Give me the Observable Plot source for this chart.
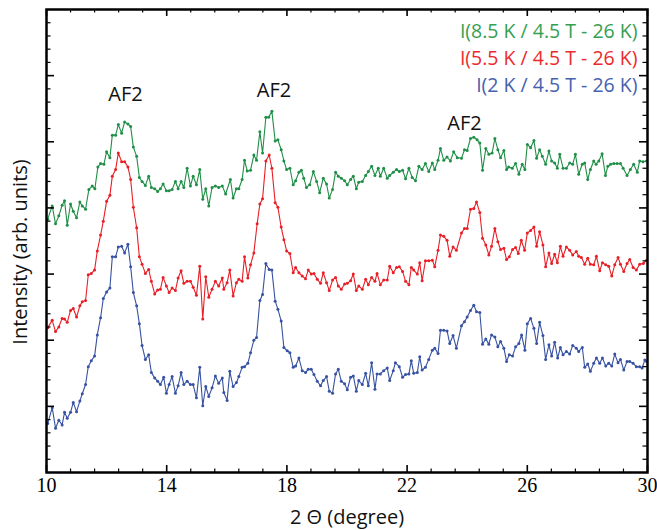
<!DOCTYPE html>
<html><head><meta charset="utf-8">
<script src="https://cdn.jsdelivr.net/npm/d3@7"></script>
<script src="https://cdn.jsdelivr.net/npm/@observablehq/plot@0.6"></script>
<style>html,body{margin:0;padding:0;background:#fff;}</style>
</head><body><div id="chart"></div>
<script>
// Series: [2θ (degree), intensity (arb. units)]
const green = [[10.04,3.83],[10.19,4.03],[10.30,3.76],[10.41,3.88],[10.52,4.04],[10.60,4.11],[10.69,3.74],[10.80,4.06],[10.89,3.95],[11.00,3.85],[11.11,4.09],[11.19,4.03],[11.30,3.98],[11.41,4.28],[11.52,4.33],[11.61,4.29],[11.71,4.62],[11.80,4.67],[11.91,4.66],[12.00,4.85],[12.11,4.76],[12.19,5.10],[12.30,5.10],[12.39,5.26],[12.50,5.13],[12.60,5.30],[12.71,5.27],[12.80,5.23],[12.89,4.92],[13.00,4.78],[13.09,4.46],[13.18,4.40],[13.29,4.34],[13.40,4.48],[13.49,4.31],[13.60,4.29],[13.70,4.25],[13.79,4.29],[13.88,4.36],[13.99,4.26],[14.08,4.26],[14.18,4.28],[14.29,4.40],[14.38,4.29],[14.48,4.40],[14.57,4.31],[14.68,4.60],[14.79,4.33],[14.88,4.48],[14.99,4.35],[15.10,4.58],[15.20,4.13],[15.30,4.29],[15.40,4.03],[15.51,4.31],[15.62,4.33],[15.73,4.31],[15.85,4.33],[15.96,4.21],[16.12,4.43],[16.21,4.15],[16.32,4.29],[16.40,4.29],[16.51,4.43],[16.59,4.72],[16.68,4.56],[16.79,4.57],[16.90,4.80],[16.99,4.72],[17.10,5.15],[17.19,4.83],[17.30,5.37],[17.39,5.37],[17.50,5.46],[17.61,5.01],[17.70,5.03],[17.81,4.88],[17.90,4.71],[17.99,4.58],[18.10,4.60],[18.21,4.35],[18.29,4.41],[18.40,4.54],[18.48,4.57],[18.56,4.45],[18.65,4.31],[18.76,4.35],[18.88,4.55],[18.99,4.40],[19.09,4.23],[19.21,4.45],[19.32,4.36],[19.41,4.15],[19.52,4.28],[19.62,4.54],[19.71,4.48],[19.81,4.45],[19.92,4.41],[20.01,4.35],[20.12,4.43],[20.21,4.48],[20.31,4.29],[20.39,4.39],[20.51,4.40],[20.62,4.49],[20.71,4.55],[20.82,4.63],[20.93,4.49],[21.04,4.60],[21.11,4.48],[21.22,4.60],[21.34,4.45],[21.42,4.49],[21.54,4.54],[21.65,4.58],[21.74,4.55],[21.85,4.57],[21.95,4.44],[22.06,4.60],[22.17,4.46],[22.28,4.41],[22.39,4.63],[22.50,4.58],[22.61,4.67],[22.72,4.55],[22.84,4.68],[22.92,4.58],[23.03,4.72],[23.11,4.90],[23.22,4.72],[23.33,4.77],[23.44,4.71],[23.55,4.85],[23.67,4.76],[23.81,4.75],[23.91,4.88],[24.00,4.87],[24.11,5.05],[24.22,5.07],[24.33,5.03],[24.42,4.98],[24.51,4.57],[24.62,4.90],[24.72,4.81],[24.83,4.83],[24.92,5.05],[25.02,4.88],[25.11,4.76],[25.22,4.87],[25.31,4.58],[25.38,4.62],[25.50,4.60],[25.61,4.67],[25.72,4.51],[25.83,4.66],[25.92,4.58],[26.00,4.96],[26.11,4.91],[26.22,5.02],[26.31,4.75],[26.41,4.88],[26.50,4.78],[26.61,4.66],[26.72,4.86],[26.81,4.71],[26.91,4.68],[27.00,4.60],[27.08,4.81],[27.19,4.60],[27.30,4.60],[27.41,4.68],[27.51,4.66],[27.60,4.81],[27.71,4.51],[27.83,4.66],[27.91,4.68],[28.01,4.43],[28.10,4.58],[28.21,4.71],[28.29,4.66],[28.38,4.71],[28.49,4.82],[28.60,4.49],[28.68,4.63],[28.77,4.66],[28.88,4.67],[28.99,4.67],[29.10,4.67],[29.19,4.60],[29.32,4.49],[29.43,4.58],[29.54,4.66],[29.66,4.54],[29.74,4.71],[29.85,4.70],[29.97,4.71]];

const red = [[10.04,2.19],[10.19,2.30],[10.30,2.13],[10.41,2.20],[10.52,2.33],[10.60,2.32],[10.69,2.27],[10.80,2.45],[10.89,2.48],[11.00,2.35],[11.11,2.52],[11.19,2.58],[11.30,2.60],[11.39,2.99],[11.49,3.01],[11.60,3.06],[11.69,3.35],[11.80,3.59],[11.89,3.80],[12.00,4.10],[12.11,4.19],[12.19,4.48],[12.30,4.58],[12.39,4.83],[12.50,4.70],[12.60,4.70],[12.71,4.62],[12.80,4.43],[12.89,4.01],[13.00,3.70],[13.09,3.26],[13.18,3.15],[13.29,3.01],[13.40,3.07],[13.49,2.89],[13.60,2.70],[13.70,2.76],[13.79,2.77],[13.88,2.95],[13.99,2.82],[14.08,2.72],[14.18,2.79],[14.29,2.75],[14.38,2.94],[14.48,3.05],[14.57,2.86],[14.68,2.89],[14.79,2.89],[14.88,2.80],[14.99,2.68],[15.10,3.12],[15.20,2.32],[15.30,2.96],[15.40,2.65],[15.51,2.77],[15.62,2.89],[15.73,2.82],[15.85,2.94],[15.90,2.77],[16.01,2.87],[16.10,3.06],[16.21,2.67],[16.32,2.87],[16.40,2.92],[16.51,2.89],[16.59,3.26],[16.70,2.94],[16.79,3.14],[16.90,3.32],[17.01,3.76],[17.10,4.06],[17.19,4.14],[17.30,4.71],[17.41,4.80],[17.50,4.60],[17.61,4.08],[17.70,4.01],[17.81,3.71],[17.90,3.52],[17.99,3.35],[18.10,3.31],[18.21,3.02],[18.29,3.10],[18.40,3.02],[18.51,2.97],[18.62,2.93],[18.71,3.06],[18.81,3.00],[18.90,3.01],[19.01,2.92],[19.12,2.86],[19.21,3.02],[19.32,2.87],[19.41,2.75],[19.52,2.91],[19.62,2.95],[19.71,2.82],[19.81,2.77],[19.92,2.85],[20.01,2.86],[20.12,2.90],[20.21,3.00],[20.31,2.75],[20.39,2.82],[20.51,2.77],[20.62,2.92],[20.71,2.84],[20.82,2.95],[20.93,2.89],[21.00,3.01],[21.11,2.84],[21.22,2.91],[21.34,2.91],[21.42,3.12],[21.54,3.02],[21.65,3.10],[21.74,3.11],[21.85,3.04],[21.95,2.89],[22.06,2.84],[22.14,3.10],[22.22,3.06],[22.34,3.00],[22.42,3.17],[22.50,2.90],[22.61,3.20],[22.72,3.20],[22.84,3.21],[22.92,3.11],[23.03,3.36],[23.11,3.59],[23.22,3.57],[23.33,3.51],[23.42,3.27],[23.53,3.41],[23.64,3.36],[23.81,3.62],[23.91,3.69],[24.00,3.69],[24.11,3.98],[24.22,3.99],[24.31,4.09],[24.42,3.93],[24.51,3.54],[24.62,3.44],[24.72,3.29],[24.81,3.42],[24.92,3.69],[25.02,3.49],[25.11,3.37],[25.22,3.39],[25.31,3.22],[25.40,3.26],[25.51,3.37],[25.61,3.40],[25.70,3.31],[25.80,3.51],[25.91,3.36],[26.00,3.62],[26.11,3.66],[26.22,3.71],[26.31,3.42],[26.41,3.64],[26.52,3.44],[26.61,3.11],[26.72,3.32],[26.81,3.16],[26.91,3.30],[27.00,3.17],[27.10,3.42],[27.19,3.27],[27.30,3.41],[27.41,3.36],[27.51,3.29],[27.63,3.34],[27.71,3.27],[27.80,3.25],[27.91,3.15],[28.01,3.24],[28.10,3.15],[28.21,3.14],[28.30,3.27],[28.41,3.05],[28.50,3.17],[28.61,3.14],[28.71,3.12],[28.81,2.97],[28.91,3.14],[29.02,3.25],[29.10,3.15],[29.21,3.04],[29.32,3.16],[29.41,3.22],[29.52,3.10],[29.63,3.06],[29.74,3.15],[29.86,3.16],[29.97,3.21]];

const blue = [[10.04,0.74],[10.19,0.98],[10.30,0.67],[10.41,0.79],[10.52,0.72],[10.60,0.91],[10.69,0.82],[10.80,0.91],[10.89,1.06],[11.00,0.92],[11.11,1.08],[11.19,1.19],[11.30,1.33],[11.39,1.60],[11.49,1.69],[11.60,1.76],[11.69,2.08],[11.80,2.34],[11.89,2.63],[12.00,2.73],[12.11,2.79],[12.19,3.26],[12.30,3.26],[12.39,3.41],[12.50,3.42],[12.60,3.32],[12.71,3.45],[12.80,3.11],[12.89,2.72],[13.00,2.52],[13.09,2.25],[13.18,1.92],[13.29,1.71],[13.40,1.78],[13.49,1.51],[13.60,1.43],[13.70,1.38],[13.79,1.33],[13.90,1.44],[13.99,1.20],[14.08,1.33],[14.18,1.45],[14.29,1.20],[14.38,1.31],[14.48,1.51],[14.57,1.33],[14.68,1.38],[14.79,1.33],[14.88,1.33],[14.99,1.13],[15.10,1.59],[15.20,1.01],[15.30,1.30],[15.40,1.15],[15.51,1.28],[15.62,1.46],[15.73,1.35],[15.85,1.43],[15.90,1.21],[16.01,1.09],[16.10,1.53],[16.21,1.30],[16.32,1.36],[16.40,1.45],[16.51,1.59],[16.59,1.60],[16.70,1.65],[16.79,1.81],[16.90,2.00],[16.99,2.04],[17.10,2.60],[17.19,2.69],[17.30,3.16],[17.41,3.07],[17.50,3.06],[17.61,2.59],[17.70,2.47],[17.81,2.29],[17.90,1.89],[18.01,1.84],[18.10,1.81],[18.21,1.59],[18.29,1.61],[18.40,1.73],[18.51,1.54],[18.62,1.51],[18.71,1.56],[18.81,1.56],[18.90,1.48],[19.01,1.38],[19.12,1.31],[19.21,1.39],[19.32,1.45],[19.41,1.23],[19.52,1.20],[19.62,1.49],[19.71,1.56],[19.81,1.38],[19.92,1.34],[20.01,1.25],[20.12,1.44],[20.21,1.46],[20.31,1.23],[20.39,1.39],[20.51,1.33],[20.62,1.50],[20.71,1.31],[20.82,1.66],[20.93,1.26],[21.00,1.49],[21.11,1.49],[21.22,1.54],[21.34,1.58],[21.42,1.39],[21.54,1.54],[21.61,1.66],[21.74,1.60],[21.85,1.44],[21.95,1.48],[22.06,1.49],[22.14,1.69],[22.22,1.50],[22.34,1.51],[22.42,1.75],[22.50,1.55],[22.61,1.59],[22.72,1.71],[22.84,1.85],[22.92,1.88],[23.03,1.80],[23.11,2.15],[23.22,2.15],[23.33,2.14],[23.42,1.95],[23.53,2.07],[23.64,1.88],[23.81,2.22],[23.91,2.28],[24.00,2.35],[24.11,2.45],[24.22,2.53],[24.31,2.43],[24.42,2.42],[24.51,1.94],[24.62,2.02],[24.72,1.94],[24.81,2.08],[24.92,2.05],[25.02,1.90],[25.11,1.98],[25.22,1.88],[25.31,1.68],[25.40,1.78],[25.51,1.76],[25.61,1.90],[25.72,1.95],[25.81,2.08],[25.92,1.85],[26.00,2.25],[26.11,2.33],[26.22,2.18],[26.31,1.95],[26.41,2.27],[26.52,2.07],[26.61,1.71],[26.72,1.93],[26.81,1.76],[26.91,1.97],[27.01,1.73],[27.10,1.89],[27.19,1.78],[27.30,1.83],[27.41,1.79],[27.51,1.92],[27.63,1.88],[27.71,1.83],[27.83,1.89],[27.91,1.59],[28.01,1.64],[28.10,1.53],[28.21,1.65],[28.30,1.73],[28.41,1.65],[28.50,1.73],[28.61,1.61],[28.71,1.65],[28.81,1.61],[28.91,1.79],[29.02,1.66],[29.10,1.71],[29.21,1.55],[29.32,1.68],[29.41,1.68],[29.52,1.65],[29.63,1.60],[29.74,1.60],[29.82,1.58],[29.91,1.70],[29.97,1.68]];

const seriesLabels = ["I(8.5 K / 4.5 T - 26 K)", "I(5.5 K / 4.5 T - 26 K)", "I(2 K / 4.5 T - 26 K)"];
const lineColors = ["#1f8f47", "#e81f27", "#3752a2"];
const labelColors = ["#35a050", "#ec2a2d", "#4661ad"];
const xTicks = [10, 14, 18, 22, 26, 30];
const yMajorTicks = [1, 2, 3, 4, 5, 6];
const annoText = ["AF2", "AF2", "AF2"];
const annoX = [12.63, 17.57, 23.91];
const annoY = [5.72, 5.78, 5.28];
const xTitle = "2 \u0398 (degree)";
const yTitle = "Intensity (arb. units)";

const W = 657, H = 530, mT = 9, mB = 58, mL = 46, mR = 10;
const innerW = W - mL - mR, innerH = H - mT - mB;
const notMult = (v, step) => Math.abs(v / step - Math.round(v / step)) > 1e-6;
const xMinor = d3.range(10.8, 29.9, 0.8).filter(v => notMult(v - 10, 4));
const yMinor = d3.range(0.2, 6.9, 0.2).filter(v => notMult(v, 1));
const sans = "'Open Sans', 'Noto Sans', sans-serif";
const ink = "#111";

const seriesList = [green, red, blue];
const marks = [];
seriesList.forEach((s, i) => {
  marks.push(Plot.line(s, {x: d => d[0], y: d => d[1], stroke: lineColors[i], strokeWidth: 1.1}));
  marks.push(Plot.dot(s, {x: d => d[0], y: d => d[1], r: 1.5, fill: lineColors[i], stroke: null}));
});
// inward ticks on all four sides
const majLen = 7, minLen = 3.5;
marks.push(
  Plot.tickX(xTicks, {x: d => d, insetTop: innerH - majLen, stroke: "#000", strokeWidth: 1.6}),
  Plot.tickX(xMinor, {x: d => d, insetTop: innerH - minLen, stroke: "#000", strokeWidth: 1.2}),
  Plot.tickX(xTicks, {x: d => d, insetBottom: innerH - majLen, stroke: "#000", strokeWidth: 1.6}),
  Plot.tickX(xMinor, {x: d => d, insetBottom: innerH - minLen, stroke: "#000", strokeWidth: 1.2}),
  Plot.tickY(yMajorTicks, {y: d => d, insetRight: innerW - majLen - 1, stroke: "#000", strokeWidth: 1.6}),
  Plot.tickY(yMinor, {y: d => d, insetRight: innerW - minLen - 1, stroke: "#000", strokeWidth: 1.2}),
  Plot.tickY(yMajorTicks, {y: d => d, insetLeft: innerW - majLen - 1, stroke: "#000", strokeWidth: 1.6}),
  Plot.tickY(yMinor, {y: d => d, insetLeft: innerW - minLen - 1, stroke: "#000", strokeWidth: 1.2}),
  Plot.frame({stroke: "#000", strokeWidth: 2.5})
);
// peak annotations
marks.push(Plot.text(annoText, {x: (d, i) => annoX[i], y: (d, i) => annoY[i], fontFamily: sans, fontSize: 20, fill: ink}));
// in-plot legend
seriesLabels.forEach((t, i) => {
  marks.push(Plot.text([t], {frameAnchor: "top-right", textAnchor: "end", lineAnchor: "middle", dx: -10, dy: 22 + i * 27.3, fontFamily: sans, fontSize: 19.5, fill: labelColors[i]}));
});
// axis titles
marks.push(Plot.text([xTitle], {frameAnchor: "bottom", lineAnchor: "middle", textAnchor: "middle", dy: 45, fontFamily: sans, fontSize: 20, fill: ink}));
marks.push(Plot.text([yTitle], {frameAnchor: "left", textAnchor: "middle", lineAnchor: "middle", rotate: -90, dx: -26, dy: 11, fontFamily: sans, fontSize: 20, fill: ink}));

const chart = Plot.plot({
  width: W, height: H,
  marginTop: mT, marginBottom: mB, marginLeft: mL, marginRight: mR,
  style: {fontFamily: "'Liberation Serif', serif", fontSize: "20px", color: "#000", background: "#fff", overflow: "visible"},
  x: {domain: [10, 30], ticks: xTicks, tickSize: 0, tickPadding: 5, label: null, tickFormat: d => String(d)},
  y: {domain: [0, 7], axis: null},
  marks
});
document.getElementById("chart").appendChild(chart);
</script>
</body></html>
